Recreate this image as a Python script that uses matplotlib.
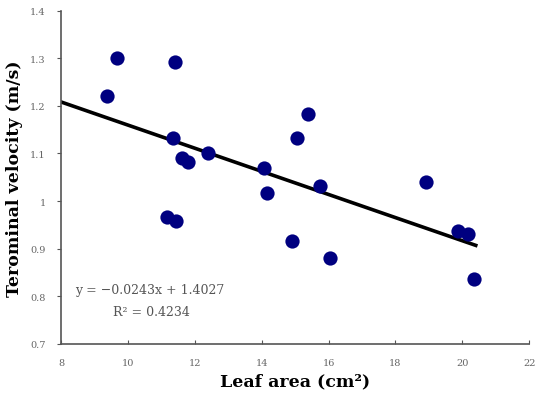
import matplotlib
matplotlib.use("Agg")
import matplotlib.pyplot as plt
import numpy as np

# leaf area (cm2) and terminal velocity (m/s)
leaf_area = [9.68, 9.38, 11.41, 11.35, 11.62, 11.80, 12.40, 11.17, 11.44, 14.07,
             14.16, 14.91, 15.06, 15.39, 15.75, 16.05, 18.92, 19.88, 20.17, 20.35]
velocity = [1.301, 1.221, 1.292, 1.133, 1.091, 1.083, 1.100, 0.967, 0.958, 1.069,
            1.018, 0.917, 1.133, 1.183, 1.031, 0.880, 1.040, 0.938, 0.930, 0.837]

# trendline from the chart
slope = -0.0243
intercept = 1.4027
r2 = 0.4234
trend_x = [8, 20.4]

x_ticks = [8, 10, 12, 14, 16, 18, 20, 22]
y_ticks = [0.7, 0.8, 0.9, 1.0, 1.1, 1.2, 1.3, 1.4]
y_ticklabels = ["0.7", "0.8", "0.9", "1", "1.1", "1.2", "1.3", "1.4"]

plt.rcParams['font.family'] = ['DejaVu Serif']

fig = plt.figure(figsize=(5.42, 4.02), dpi=100)
ax = fig.add_axes([0.1125, 0.142, 0.864, 0.829])

ax.scatter(leaf_area, velocity, s=105, color="#000080", zorder=3, linewidths=0)
tx = np.array(trend_x)
ax.plot(tx, slope * tx + intercept, color="black", lw=2.6, zorder=2)

ax.set_xlim(8, 22)
ax.set_ylim(0.7, 1.4)
ax.set_xticks(x_ticks)
ax.set_yticks(y_ticks)
ax.set_yticklabels(y_ticklabels)

for s in ["top", "right"]:
    ax.spines[s].set_visible(False)
for s in ["left", "bottom"]:
    ax.spines[s].set_color("#555555")
    ax.spines[s].set_linewidth(1.2)

ax.tick_params(axis="x", direction="in", length=3, pad=10, labelsize=7, colors="#555555", labelcolor="#666666")
ax.tick_params(axis="y", direction="out", length=3, pad=8, labelsize=7, colors="#555555", labelcolor="#666666")

ax.set_xlabel("Leaf area (cm\u00b2)", fontsize=12.5, fontweight="bold", labelpad=4)
ax.set_ylabel("Terominal velocity (m/s)", fontsize=12.5, fontweight="bold", labelpad=5)

ax.text(10.65, 0.815, "y = \u22120.0243x + 1.4027", fontsize=9, color="#555555", ha="center", va="center")
ax.text(10.7, 0.769, "R\u00b2 = %.4f" % r2, fontsize=9, color="#555555", ha="center", va="center")

fig.savefig("out.png", dpi=100)
